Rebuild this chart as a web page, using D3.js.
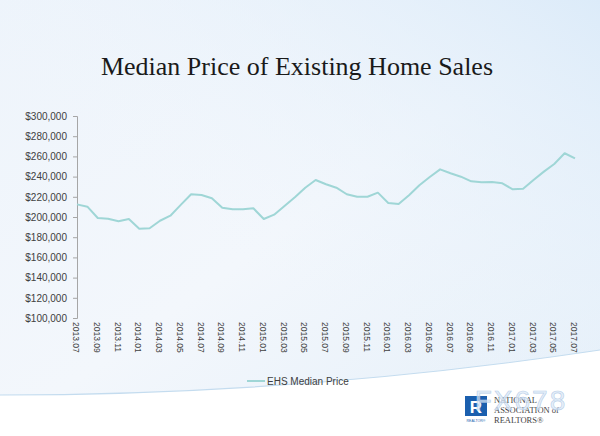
<!DOCTYPE html>
<html><head><meta charset="utf-8">
<script src="https://cdn.jsdelivr.net/npm/d3@7"></script>
<style>html,body{margin:0;padding:0;background:#fff;}svg{display:block;}</style>
</head><body>
<script>
const months = ["2013.07","2013.08","2013.09","2013.10","2013.11","2013.12",
"2014.01","2014.02","2014.03","2014.04","2014.05","2014.06","2014.07","2014.08","2014.09","2014.10","2014.11","2014.12",
"2015.01","2015.02","2015.03","2015.04","2015.05","2015.06","2015.07","2015.08","2015.09","2015.10","2015.11","2015.12",
"2016.01","2016.02","2016.03","2016.04","2016.05","2016.06","2016.07","2016.08","2016.09","2016.10","2016.11","2016.12",
"2017.01","2017.02","2017.03","2017.04","2017.05","2017.06","2017.07"];
const medianPrice = [212500,210200,199000,198300,195700,198000,
188400,188800,196300,201300,212000,222500,221800,218500,209200,207600,207600,208600,
198000,202300,210900,219500,229000,236600,232400,229000,222500,220100,220100,224100,
213900,212900,221500,231400,239600,247200,243300,239900,235300,234300,234700,233400,
227400,228000,236600,244900,252500,263100,258100];
const xTickLabels = ["2013.07","2013.09","2013.11","2014.01","2014.03","2014.05","2014.07","2014.09","2014.11",
"2015.01","2015.03","2015.05","2015.07","2015.09","2015.11","2016.01","2016.03","2016.05","2016.07","2016.09","2016.11",
"2017.01","2017.03","2017.05","2017.07"];
const yTicks = [100000,120000,140000,160000,180000,200000,220000,240000,260000,280000,300000];
const title = "Median Price of Existing Home Sales";
const seriesName = "EHS Median Price";

const W = 600, H = 436;
const svg = d3.select("body").append("svg").attr("width", W).attr("height", H);
const defs = svg.append("defs");
const g1 = defs.append("linearGradient").attr("id","bg").attr("x1","0").attr("y1","0").attr("x2","1").attr("y2","1");
g1.append("stop").attr("offset","0").attr("stop-color","#eef4fb");
g1.append("stop").attr("offset","0.5").attr("stop-color","#f3f7fc");
g1.append("stop").attr("offset","1").attr("stop-color","#e4eff9");
const g2 = defs.append("linearGradient").attr("id","bg2").attr("x1","1").attr("y1","0").attr("x2","0").attr("y2","1");
g2.append("stop").attr("offset","0").attr("stop-color","#dcebf9").attr("stop-opacity","1");
g2.append("stop").attr("offset","0.6").attr("stop-color","#eef5fc").attr("stop-opacity","0");

svg.append("rect").attr("width",W).attr("height",H).attr("fill","url(#bg)");
svg.append("rect").attr("width",W).attr("height",H).attr("fill","url(#bg2)");

// bottom white swoosh
svg.append("path").attr("d","M0,395 Q300,395 600,350 L600,436 L0,436 Z").attr("fill","#ffffff");
svg.append("path").attr("d","M0,395 Q300,395 600,350").attr("fill","none").attr("stroke","#c4dcef").attr("stroke-width",1.2);

// title
svg.append("text").attr("x",297).attr("y",75).attr("text-anchor","middle")
  .attr("font-family","'Liberation Serif','DejaVu Serif',serif").attr("font-size",26).attr("fill","#1a1a1a")
  .text(title);

const x = d3.scalePoint().domain(months).range([77,575]);
const y = d3.scaleLinear().domain([100000,300000]).range([318,116]);

const yAxis = svg.append("g").attr("transform","translate(77,0)")
  .call(d3.axisLeft(y).tickValues(yTicks).tickSize(4).tickPadding(6).tickFormat(d => "$" + d3.format(",")(d)));
yAxis.select(".domain").attr("stroke","#a6a6a6");
yAxis.selectAll(".tick line").attr("stroke","#a6a6a6");
yAxis.selectAll(".tick text").attr("font-family","'Liberation Sans',Arial,sans-serif").attr("font-size",10).attr("fill","#404040");

// x tick labels (rotated)
svg.append("g").selectAll("text").data(xTickLabels).join("text")
  .attr("transform", d => `translate(${x(d)-1},322) rotate(90)`)
  .attr("dy","0.35em").attr("text-anchor","start")
  .attr("font-family","'Liberation Sans',Arial,sans-serif").attr("font-size",8.5).attr("fill","#404040")
  .text(d => d);

// line
const line = d3.line().x((d,i) => x(months[i])).y(d => y(d));
svg.append("path").datum(medianPrice).attr("d", line).attr("fill","none")
  .attr("stroke","#9fd6d6").attr("stroke-width",2).attr("stroke-linejoin","round");

// legend
svg.append("line").attr("x1",247).attr("x2",265).attr("y1",381).attr("y2",381).attr("stroke","#9fd6d6").attr("stroke-width",2);
svg.append("text").attr("x",267).attr("y",381).attr("dy","0.35em")
  .attr("font-family","'Liberation Sans',Arial,sans-serif").attr("font-size",10).attr("fill","#404040").text(seriesName);

// logo
const logo = svg.append("g");
logo.append("rect").attr("x",465).attr("y",396).attr("width",22).attr("height",20).attr("fill","#1b5fae");
logo.append("text").attr("x",476).attr("y",413).attr("text-anchor","middle").attr("font-family","'Liberation Sans',Arial,sans-serif")
  .attr("font-weight","bold").attr("font-size",17).attr("fill","#fff").text("R");
logo.append("text").attr("x",476).attr("y",422).attr("text-anchor","middle").attr("font-family","'Liberation Sans',Arial,sans-serif")
  .attr("font-size",3.5).attr("fill","#1b5fae").text("REALTOR®");
const lt = logo.append("text").attr("font-family","'Liberation Serif',serif").attr("font-size",8.5).attr("fill","#444");
lt.append("tspan").attr("x",494).attr("y",403).text("NATIONAL");
lt.append("tspan").attr("x",494).attr("y",413).text("ASSOCIATION of");
lt.append("tspan").attr("x",494).attr("y",423).text("REALTORS®");
svg.append("text").attr("x",521).attr("y",410).attr("text-anchor","middle")
  .attr("font-family","'Liberation Sans',Arial,sans-serif").attr("font-size",28).attr("letter-spacing",2)
  .attr("fill","#dbe8f7").attr("fill-opacity",0.7).attr("stroke","#b9cfe9").attr("stroke-width",0.6).text("FX678");
</script>
</body></html>
